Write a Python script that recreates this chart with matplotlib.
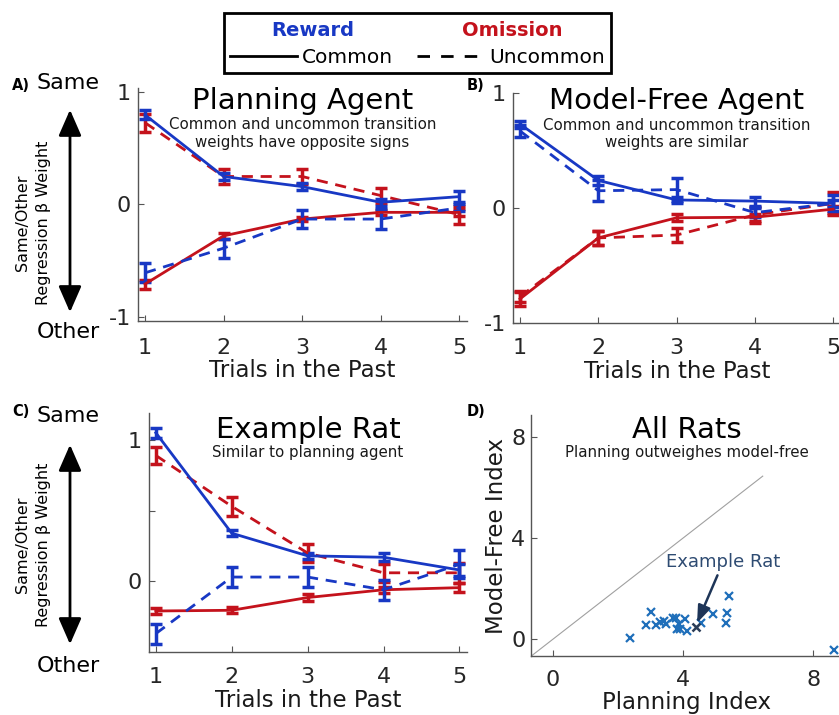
import matplotlib
matplotlib.use('Agg')
import matplotlib.pyplot as plt
from matplotlib.lines import Line2D
from matplotlib.patches import FancyArrowPatch

plt.rcParams['font.family'] = ['DejaVu Sans']
plt.rcParams['axes.unicode_minus'] = False

# --- data ---
trials = [1, 2, 3, 4, 5]

# planning agent
plan_rew_common = [0.80, 0.25, 0.16, 0.02, 0.07]
plan_rew_common_err = [0.04, 0.03, 0.03, 0.03, 0.05]
plan_rew_uncommon = [-0.61, -0.39, -0.13, -0.13, -0.03]
plan_rew_uncommon_err = [0.085, 0.085, 0.08, 0.09, 0.03]
plan_om_common = [-0.71, -0.28, -0.13, -0.07, -0.07]
plan_om_common_err = [0.04, 0.03, 0.02, 0.02, 0.03]
plan_om_uncommon = [0.73, 0.25, 0.25, 0.08, -0.09]
plan_om_uncommon_err = [0.08, 0.07, 0.07, 0.07, 0.08]

# model-free agent
mf_rew_common = [0.73, 0.24, 0.07, 0.06, 0.04]
mf_rew_common_err = [0.03, 0.04, 0.03, 0.04, 0.03]
mf_rew_uncommon = [0.67, 0.15, 0.16, -0.04, 0.04]
mf_rew_uncommon_err = [0.05, 0.09, 0.10, 0.04, 0.07]
mf_om_common = [-0.79, -0.26, -0.085, -0.08, -0.01]
mf_om_common_err = [0.06, 0.06, 0.03, 0.03, 0.03]
mf_om_uncommon = [-0.77, -0.26, -0.235, -0.06, 0.04]
mf_om_uncommon_err = [0.05, 0.06, 0.06, 0.07, 0.10]

# example rat
rat_rew_common = [1.05, 0.34, 0.18, 0.17, 0.08]
rat_rew_common_err = [0.035, 0.02, 0.02, 0.03, 0.04]
rat_rew_uncommon = [-0.37, 0.03, 0.03, -0.06, 0.12]
rat_rew_uncommon_err = [0.07, 0.07, 0.073, 0.07, 0.10]
rat_om_common = [-0.21, -0.205, -0.115, -0.06, -0.045]
rat_om_common_err = [0.02, 0.02, 0.025, 0.02, 0.03]
rat_om_uncommon = [0.89, 0.53, 0.20, 0.06, 0.06]
rat_om_uncommon_err = [0.06, 0.066, 0.063, 0.065, 0.07]

# all rats
planning_idx = [2.37, 3.02, 2.86, 3.17, 3.29, 3.40, 3.48, 3.68, 3.78, 3.86,
                3.81, 3.91, 4.06, 4.13, 4.55, 4.91, 5.32, 5.36, 5.42, 8.65]
modelfree_idx = [0.04, 1.08, 0.55, 0.55, 0.68, 0.72, 0.59, 0.84, 0.84, 0.59,
                 0.38, 0.38, 0.78, 0.32, 0.62, 0.99, 0.64, 1.04, 1.71, -0.45]
example_planning = [4.40]
example_modelfree = [0.49]
unity = [-0.7, 6.45]

BLUE = '#1838c4'
RED = '#c4121c'
SPINE = '#555555'
DASH = (0, (4, 2.8))
W, H = 839, 715


def px_rect(left, top, right, bottom):
    return [left / W, 1 - bottom / H, (right - left) / W, (bottom - top) / H]


def style_axes(ax, xpad):
    for s in ['top', 'right']:
        ax.spines[s].set_visible(False)
    for s in ['left', 'bottom']:
        ax.spines[s].set_color(SPINE)
        ax.spines[s].set_linewidth(1.0)
    ax.tick_params(direction='in', length=4, width=0.8, color=SPINE,
                   labelsize=16, labelcolor='#262626')
    ax.tick_params(axis='x', pad=xpad)
    ax.tick_params(axis='y', pad=5)


def plot_weights(ax, series):
    for y, err, color, ls in series:
        ax.errorbar(trials, y, yerr=err, color=color, linestyle=ls, lw=2,
                    elinewidth=2.5, capsize=4, capthick=2.5)
    ax.set_xlim(0.91, 5.1)
    ax.set_xticks(trials)
    ax.set_xlabel('Trials in the Past', fontsize=16.5, color='#1a1a1a', labelpad=1)


fig = plt.figure(figsize=(W / 100, H / 100), dpi=100)

# A) planning agent
axA = fig.add_axes(px_rect(138, 88, 467, 321))
style_axes(axA, 12)
plot_weights(axA, [
    (plan_om_common, plan_om_common_err, RED, '-'),
    (plan_om_uncommon, plan_om_uncommon_err, RED, DASH),
    (plan_rew_uncommon, plan_rew_uncommon_err, BLUE, DASH),
    (plan_rew_common, plan_rew_common_err, BLUE, '-'),
])
axA.set_ylim(-1.04, 1.04)
axA.set_yticks([-1, 0, 1])
axA.text(0.5, 0.91, 'Planning Agent', transform=axA.transAxes, ha='center',
         va='baseline', fontsize=21)
axA.text(0.5, 0.748, 'Common and uncommon transition\nweights have opposite signs',
         transform=axA.transAxes, ha='center', va='baseline', fontsize=10.8,
         linespacing=1.2, color='#1a1a1a')

# B) model-free agent
axB = fig.add_axes(px_rect(513, 93, 841, 323))
style_axes(axB, 11)
plot_weights(axB, [
    (mf_om_uncommon, mf_om_uncommon_err, RED, DASH),
    (mf_om_common, mf_om_common_err, RED, '-'),
    (mf_rew_uncommon, mf_rew_uncommon_err, BLUE, DASH),
    (mf_rew_common, mf_rew_common_err, BLUE, '-'),
])
axB.set_ylim(-1.0, 1.0)
axB.set_yticks([-1, 0, 1])
axB.text(0.5, 0.929, 'Model-Free Agent', transform=axB.transAxes, ha='center',
         va='baseline', fontsize=21)
axB.text(0.5, 0.764, 'Common and uncommon transition\nweights are similar',
         transform=axB.transAxes, ha='center', va='baseline', fontsize=10.8,
         linespacing=1.2, color='#1a1a1a')

# C) example rat
axC = fig.add_axes(px_rect(149, 413, 467, 652))
style_axes(axC, 11)
plot_weights(axC, [
    (rat_om_common, rat_om_common_err, RED, '-'),
    (rat_om_uncommon, rat_om_uncommon_err, RED, DASH),
    (rat_rew_uncommon, rat_rew_uncommon_err, BLUE, DASH),
    (rat_rew_common, rat_rew_common_err, BLUE, '-'),
])
axC.set_ylim(-0.5, 1.19)
axC.set_yticks([0, 0.5, 1])
axC.set_yticklabels(['0', '', '1'])
axC.text(0.5, 0.894, 'Example Rat', transform=axC.transAxes, ha='center',
         va='baseline', fontsize=21)
axC.text(0.5, 0.817, 'Similar to planning agent', transform=axC.transAxes,
         ha='center', va='baseline', fontsize=10.8, color='#1a1a1a')

# D) all rats
axD = fig.add_axes(px_rect(531, 415, 843, 656))
style_axes(axD, 10)
axD.tick_params(axis='y', pad=4)
axD.plot(unity, unity, color='#a0a0a0', lw=0.8)
axD.plot(planning_idx, modelfree_idx, 'x', color='#1f6fba', ms=5.5, mew=1.6)
axD.plot(example_planning, example_modelfree, 'x', color='#2b3d58', ms=5.5, mew=1.8)
axD.annotate('Example Rat', xy=(example_planning[0] + 0.03, example_modelfree[0] + 0.15),
             xytext=(5.23, 3.04), ha='center', va='center', fontsize=13,
             color='#2e4b72',
             arrowprops=dict(arrowstyle='-|>,head_length=0.8,head_width=0.3',
                             color='#1e3558', lw=1.8, shrinkA=1, shrinkB=0))
axD.set_xlim(-0.68, 8.92)
axD.set_ylim(-0.67, 8.87)
axD.set_xticks([0, 4, 8])
axD.set_yticks([0, 4, 8])
axD.set_xlabel('Planning Index', fontsize=16.5, color='#1a1a1a', labelpad=1)
axD.set_ylabel('Model-Free Index', fontsize=16.5, color='#1a1a1a', labelpad=2)
axD.text(0.5, 0.903, 'All Rats', transform=axD.transAxes, ha='center',
         va='baseline', fontsize=21)
axD.text(0.5, 0.827, 'Planning outweighes model-free', transform=axD.transAxes,
         ha='center', va='baseline', fontsize=10.8, color='#1a1a1a')

# panel letters and the same/other guides on the left
for label, x, y in [('A)', 12, 86), ('B)', 467, 86), ('C)', 12, 411), ('D)', 467, 411)]:
    fig.text(x / W, 1 - y / H, label, fontsize=10.5, fontweight='bold',
             ha='left', va='center')

for top_y, bot_y, same_y, other_y, lab_y in [(107, 315, 83, 332, 223),
                                             (442, 647, 416, 666, 545)]:
    fig.text(37 / W, 1 - same_y / H, 'Same', fontsize=16, ha='left', va='center')
    fig.text(37 / W, 1 - other_y / H, 'Other', fontsize=16, ha='left', va='center')
    fig.text(33 / W, 1 - lab_y / H, 'Same/Other\nRegression \u03b2 Weight',
             fontsize=11.5, rotation=90, ha='center', va='center',
             multialignment='center', linespacing=1.45)
    fig.add_artist(FancyArrowPatch((70 / W, 1 - top_y / H), (70 / W, 1 - bot_y / H),
                                   transform=fig.transFigure,
                                   arrowstyle='<|-|>,head_length=1.6,head_width=0.7',
                                   mutation_scale=10, color='black', lw=2))

# legend: line styles, with the outcome headers above
handles = [Line2D([], [], color='black', lw=2, ls='-'),
           Line2D([], [], color='black', lw=2, ls=(0, (4.5, 4)))]
leg = fig.legend(handles, ['Common', 'Uncommon'], ncol=2, loc='upper center',
                 bbox_to_anchor=(417.5 / W, 1 - 13 / H), fontsize=14.5,
                 title=' ', title_fontsize=14, frameon=True, fancybox=False,
                 edgecolor='black', framealpha=1, handlelength=3.3,
                 handletextpad=0.25, columnspacing=1.2, borderpad=0.3,
                 borderaxespad=0)
leg.get_frame().set_linewidth(2)
fig.text(313 / W, 1 - 30 / H, 'Reward', color=BLUE, fontsize=14,
         fontweight='bold', ha='center', va='center', zorder=10)
fig.text(512 / W, 1 - 30 / H, 'Omission', color=RED, fontsize=14,
         fontweight='bold', ha='center', va='center', zorder=10)

fig.savefig('out.png', dpi=100)
